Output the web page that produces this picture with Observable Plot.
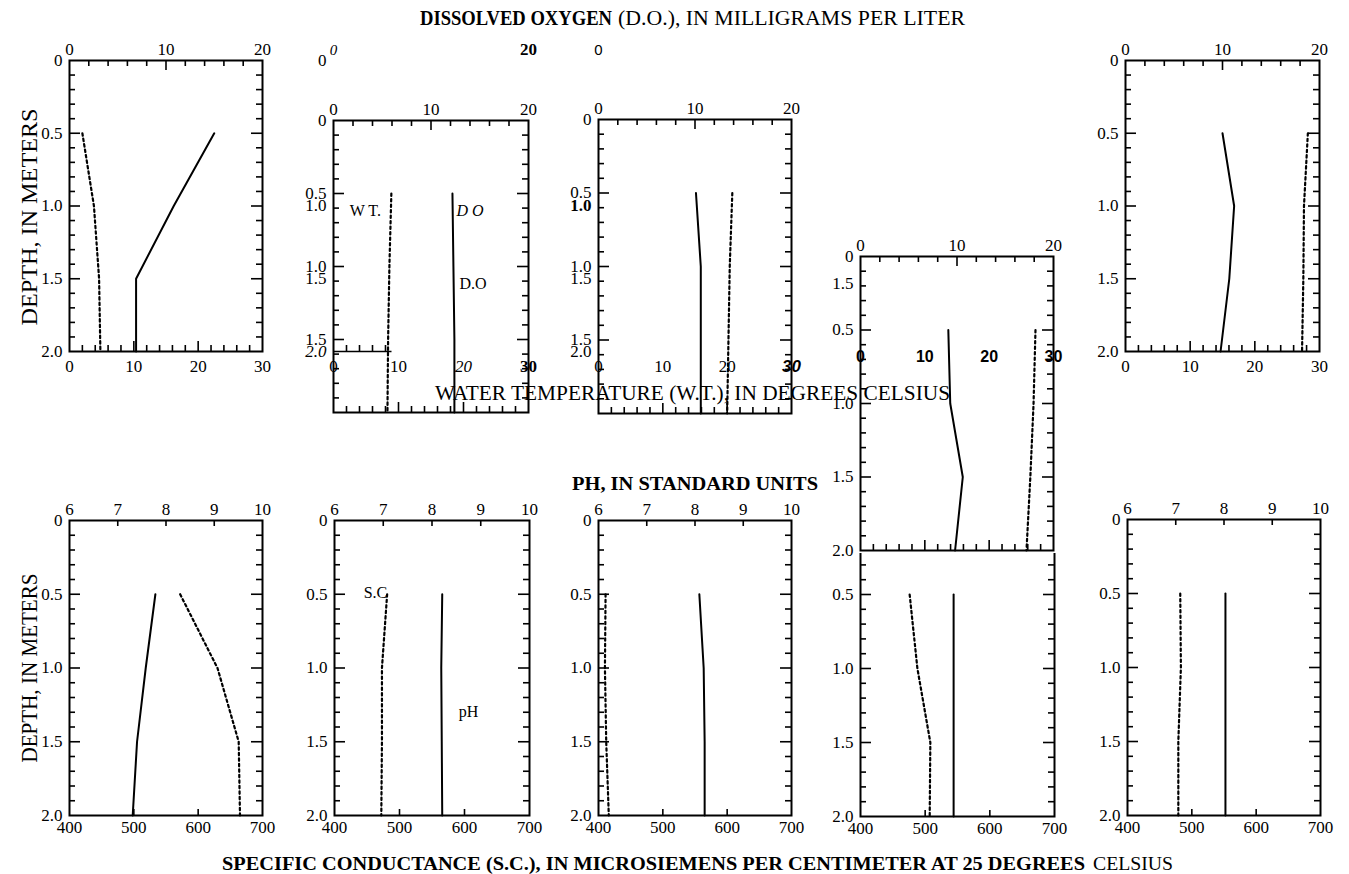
<!DOCTYPE html>
<html><head><meta charset="utf-8">
<script src="https://cdn.jsdelivr.net/npm/d3@7"></script>
<script src="https://cdn.jsdelivr.net/npm/@observablehq/plot@0.6"></script>
<style>
body{margin:0;background:#fff;}
#chart{position:relative;width:1349px;height:874px;overflow:hidden;background:#fff;}
</style></head><body><div id="chart"></div><script>
// ---------------- data ----------------
const depths = [0.5, 1.0, 1.5, 2.0];               // meters
// top row: dissolved oxygen (mg/L, solid) & water temperature (deg C, dotted)
const doA = [15.0, 10.8, 6.9, 6.9];
const wtA = [2.0, 3.8, 4.6, 4.8];
const doB = [12.2, 12.3, 12.4, 12.4];
const wtB = [8.9, 8.6, 8.4, 8.3];
const doC = [10.1, 10.6, 10.6, 10.6];
const wtC = [20.8, 20.4, 20.2, 20.0];
const doD = [9.1, 9.3, 10.6, 9.8];
const wtD = [27.2, 26.9, 26.4, 25.8];
const doE = [10.0, 11.2, 10.7, 9.8];
const wtE = [28.2, 27.6, 27.5, 27.3];
// bottom row: pH (standard units, solid) & specific conductance (uS/cm, dotted)
const phA = [7.78, 7.58, 7.40, 7.31];
const scA = [572, 630, 663, 665];
const phB = [8.21, 8.19, 8.20, 8.21];
const scB = [481, 473, 473, 472];
const phC = [8.09, 8.18, 8.20, 8.20];
const scC = [411, 410, 412, 416];
const phD = [7.92, 7.92, 7.92, 7.92];
const scD = [476, 488, 508, 507];
const phE = [8.03, 8.03, 8.03, 8.03];
const scE = [482, 483, 479, 479];
// axes
const doDomain = [0, 20], wtDomain = [0, 30], phDomain = [6, 10], scDomain = [400, 700];
const doLabels = [0, 10, 20], wtLabels = [0, 10, 20, 30];
const phLabels = [6, 7, 8, 9, 10], scLabels = [400, 500, 600, 700];
const doTicks = [2, 4, 6, 8, 10, 12, 14, 16, 18], doMajor = [10];
const wtTicks = [2, 4, 6, 8, 10, 12, 14, 16, 18, 20, 22, 24, 26, 28], wtMajor = [10, 20];
const phTicks = [7, 8, 9], scTicks = [500, 600];
const depthLabels = [0, 0.5, 1.0, 1.5, 2.0];
const depthTicks = [0.1,0.2,0.3,0.4,0.5,0.6,0.7,0.8,0.9,1.0,1.1,1.2,1.3,1.4,1.5,1.6,1.7,1.8,1.9];
// in-panel labels
const tagsWT = [{text: "W T.", value: 4.9, depth: 0.62}];
const tagsDO = [{text: "D O", value: 14.0, depth: 0.62, italic: true}, {text: "D.O", value: 14.3, depth: 1.12}];
const tagsSC = [{text: "S.C", value: 463, depth: 0.49}];
const tagsPH = [{text: "pH", value: 8.75, depth: 1.30}];

// ---------------- layout (pixels of each panel frame) ----------------
const F = {
  A: {l: 69, r: 262, t: 60, b: 351},  B: {l: 333, r: 528, t: 120, b: 412},
  C: {l: 598, r: 791, t: 119, b: 413}, D: {l: 860, r: 1053, t: 256, b: 550},
  E: {l: 1125, r: 1319, t: 60, b: 351},
  A2: {l: 69, r: 262, t: 520, b: 815}, B2: {l: 334, r: 529, t: 520, b: 815},
  C2: {l: 598, r: 791, t: 520, b: 815}, D2: {l: 860, r: 1054, t: 520, b: 816},
  E2: {l: 1127, r: 1320, t: 519, b: 815},
  gB: {l: 333, r: 528, t: 60, b: 351}, gC: {l: 598, r: 791, t: 60, b: 351},
  gD: {l: 860, r: 1053, t: 103, b: 343}
};
const SERIF = "'Liberation Serif', 'DejaVu Serif', serif";
const SANS = "'Liberation Sans', 'DejaVu Sans', sans-serif";
const chart = document.getElementById("chart");

function layer(f, xDomain, marks, o = {}) {
  const m = Object.assign({l: 52, r: 22, t: 34, b: 34}, o.margin || {});
  const svg = Plot.plot({
    width: f.r - f.l + m.l + m.r,
    height: f.b - f.t + m.t + m.b,
    marginLeft: m.l, marginRight: m.r, marginTop: m.t, marginBottom: m.b,
    x: {domain: xDomain, axis: null},
    y: {domain: [0, 2], reverse: true, axis: null},
    style: {background: o.bg || "transparent", fontFamily: SERIF, fontSize: "17px", color: "black", overflow: "visible"},
    marks
  });
  svg.style.position = "absolute";
  svg.style.left = (f.l - m.l) + "px";
  svg.style.top = (f.t - m.t) + "px";
  chart.appendChild(svg);
}
const prof = vals => depths.map((d, i) => ({depth: d, value: vals[i]}));
const solid = vals => Plot.line(prof(vals), {x: "value", y: "depth", stroke: "black", strokeWidth: 2});
const dotted = vals => Plot.line(prof(vals), {x: "value", y: "depth", stroke: "black", strokeWidth: 2.2, strokeDasharray: "2.5,3"});
function edgeTicks(f, ticks, majors, edge) {
  const ky = 2 / (f.b - f.t);
  const y0 = edge === "top" ? 0 : 2, s = edge === "top" ? 1 : -1;
  return Plot.ruleX(ticks, {x: d => d, y1: y0, y2: d => y0 + s * (majors.includes(d) ? 10 : 6) * ky, stroke: "black", strokeWidth: 1.6});
}
function sideTicks(f, xDomain) {
  const kx = (xDomain[1] - xDomain[0]) / (f.r - f.l);
  const len = d => (Math.round(d * 10) % 5 === 0 ? 11 : 6) * kx;
  return [
    Plot.ruleY(depthTicks, {y: d => d, x1: xDomain[0], x2: d => xDomain[0] + len(d), stroke: "black", strokeWidth: 1.6}),
    Plot.ruleY(depthTicks, {y: d => d, x1: xDomain[1], x2: d => xDomain[1] - len(d), stroke: "black", strokeWidth: 1.6})
  ];
}
const fmtDepth = d => d === 0 ? "0" : d.toFixed(1);
const leftLab = (ticks, extra = {}) => Plot.axisY(ticks, {anchor: "left", tickSize: 0, tickPadding: 7, tickFormat: fmtDepth, label: null, fontSize: 17, ...extra});
const xLab = (anchor, ticks, extra = {}) => Plot.axisX(ticks, {anchor, tickSize: 0, tickPadding: anchor === "top" ? 6 : 8, tickFormat: d => String(d), label: null, fontSize: 17, ...extra});
const frame = () => Plot.frame({stroke: "black", strokeWidth: 2});
const tagMarks = tags => [
  Plot.text(tags.filter(d => !d.italic), {x: "value", y: "depth", text: "text", fontSize: 16}),
  Plot.text(tags.filter(d => d.italic), {x: "value", y: "depth", text: "text", fontSize: 16, fontStyle: "italic"})
];

// ---------------- top row ----------------
function topPanel(f, dov, wtv, o = {}) {
  layer(f, doDomain, [
    frame(), edgeTicks(f, doTicks, doMajor, "top"), ...sideTicks(f, doDomain),
    leftLab(o.left || depthLabels), xLab("top", doLabels), solid(dov), ...(o.doTags ? tagMarks(o.doTags) : [])
  ], {bg: o.bg, margin: o.margin});
  layer(f, wtDomain, [
    edgeTicks(f, wtTicks, wtMajor, "bottom"), dotted(wtv),
    ...(o.bottomLabels === false ? [] : [xLab("bottom", wtLabels)]),
    ...(o.wtTags ? tagMarks(o.wtTags) : [])
  ]);
}
topPanel(F.A, doA, wtA);
topPanel(F.B, doB, wtB, {left: [0, 0.5, 1.0, 1.5], bottomLabels: false, doTags: tagsDO, wtTags: tagsWT});
// offset copy of panel B axis labels (scan artefact)
layer(F.gB, doDomain, [
  leftLab([0, 1.0, 1.5]), leftLab([2.0], {fontStyle: "italic"}),
  xLab("top", [0], {fontStyle: "italic", fontSize: 15}), xLab("top", [20], {fontWeight: "bold"})
]);
layer(F.gB, wtDomain, [
  Plot.ruleY([2], {x1: 0, x2: 9, stroke: "black", strokeWidth: 1.5}),
  edgeTicks(F.gB, [2, 4, 6, 8], [], "bottom"),
  xLab("bottom", [0, 10]), xLab("bottom", [20], {fontStyle: "italic"}), xLab("bottom", [30], {fontWeight: "bold"})
]);
topPanel(F.C, doC, wtC, {left: [0, 0.5, 1.0, 1.5], bottomLabels: false});
layer(F.gC, doDomain, [
  leftLab([1.0], {fontWeight: "bold"}), leftLab([1.5, 2.0]), xLab("top", [0], {fontFamily: SANS, fontSize: 15})
]);
layer(F.gC, wtDomain, [
  xLab("bottom", [0, 10, 20]), xLab("bottom", [30], {fontStyle: "italic", fontWeight: "bold", fontFamily: SANS})
]);
topPanel(F.E, doE, wtE);

// ---------------- bottom row ----------------
function botPanel(f, phv, scv, o = {}) {
  layer(f, phDomain, [
    frame(), edgeTicks(f, phTicks, [], "top"), ...sideTicks(f, phDomain),
    leftLab(depthLabels), xLab("top", phLabels), solid(phv), ...(o.phTags ? tagMarks(o.phTags) : [])
  ]);
  layer(f, scDomain, [
    edgeTicks(f, scTicks, [], "bottom"), dotted(scv), xLab("bottom", scLabels, {tickPadding: 5}),
    ...(o.scTags ? tagMarks(o.scTags) : [])
  ]);
}
botPanel(F.A2, phA, scA);
botPanel(F.B2, phB, scB, {phTags: tagsPH, scTags: tagsSC});
botPanel(F.C2, phC, scC);
botPanel(F.D2, phD, scD);
botPanel(F.E2, phE, scE);

// panel D (top row, displaced downward over the bottom row)
topPanel(F.D, doD, wtD, {bg: "white", margin: {b: 3}, bottomLabels: false});
layer(F.gD, wtDomain, [
  leftLab([1.5]),
  xLab("bottom", wtLabels, {fontFamily: SANS, fontWeight: "bold", fontSize: 16, tickPadding: 7})
]);

// ---------------- titles ----------------
const ov = d3.select(chart).append("svg")
  .attr("width", 1349).attr("height", 874)
  .style("position", "absolute").style("left", "0px").style("top", "0px")
  .style("font-family", SERIF);
function txt(s, x, y, len, size, weight = "normal", rotate = false) {
  const t = ov.append("text").text(s).attr("font-size", size).attr("font-weight", weight)
    .attr("textLength", len).attr("lengthAdjust", "spacingAndGlyphs").attr("fill", "black");
  if (rotate) t.attr("text-anchor", "middle").attr("transform", `translate(${x},${y}) rotate(-90)`);
  else t.attr("x", x).attr("y", y);
}
txt("DISSOLVED OXYGEN", 420, 25, 192, 20, "bold");
txt("(D.O.), IN MILLIGRAMS PER LITER", 618, 25, 347, 20);
txt("WATER TEMPERATURE (W.T.), IN DEGREES CELSIUS", 435, 400, 515, 20);
txt("PH, IN STANDARD UNITS", 572, 490, 246, 19, "bold");
txt("SPECIFIC CONDUCTANCE (S.C.), IN MICROSIEMENS PER CENTIMETER AT 25 DEGREES", 222, 870, 863, 19, "bold");
txt("CELSIUS", 1093, 870, 80, 19);
txt("DEPTH, IN METERS", 37, 217, 217, 24, "normal", true);
txt("DEPTH, IN METERS", 37, 668, 189, 24, "normal", true);
</script></body></html>
